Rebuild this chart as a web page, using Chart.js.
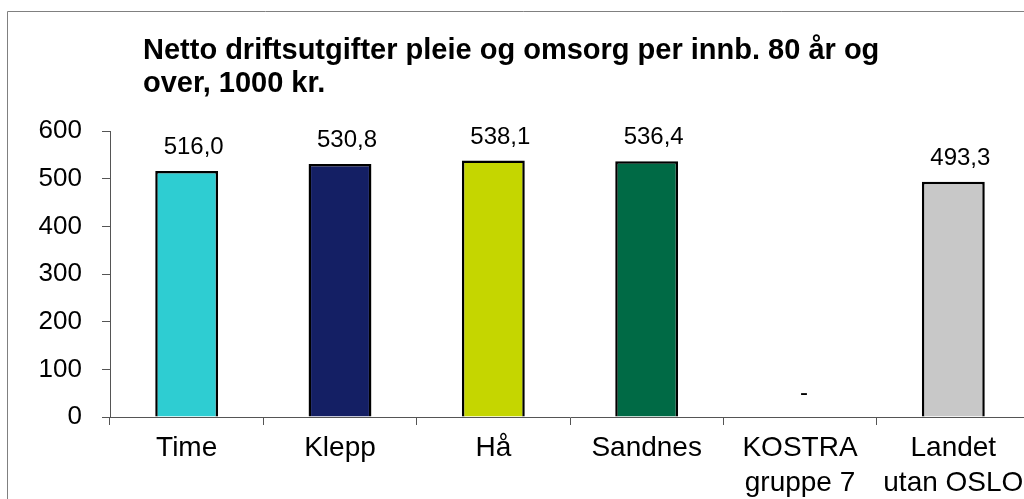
<!DOCTYPE html>
<html>
<head>
<meta charset="utf-8">
<script src="https://cdn.jsdelivr.net/npm/chart.js@4/dist/chart.umd.min.js"></script>
<style>
html,body{margin:0;padding:0;background:#fff;overflow:hidden;width:1024px;height:499px;}
#wrap{position:absolute;left:0;top:0;width:1040px;height:499px;}
</style>
</head>
<body>
<div id="wrap"><canvas id="c" width="1040" height="499"></canvas></div>
<script>
const titleLines = ['Netto driftsutgifter pleie og omsorg per innb. 80 år og', 'over, 1000 kr.'];
const categories = [['Time'], ['Klepp'], ['Hå'], ['Sandnes'], ['KOSTRA', 'gruppe 7'], ['Landet', 'utan OSLO']];
const values = [516.0, 530.8, 538.1, 536.4, null, 493.3];
const barColors = ['#2ECDD2', '#141F64', '#C5D600', '#006A45', '#FFFFFF', '#C8C8C8'];
const yTicks = [0, 100, 200, 300, 400, 500, 600];

const FONT = "'Liberation Sans', Arial, sans-serif";

const framePlugin = {
  id: 'frame',
  beforeDraw(chart) {
    const ctx = chart.ctx;
    ctx.save();
    ctx.strokeStyle = '#808080';
    ctx.lineWidth = 1;
    ctx.beginPath();
    ctx.moveTo(7.5, 499);
    ctx.lineTo(7.5, 11.5);
    ctx.lineTo(1040, 11.5);
    ctx.stroke();
    ctx.restore();
  }
};

const titlePlugin = {
  id: 'leftTitle',
  afterDraw(chart) {
    const ctx = chart.ctx;
    ctx.save();
    ctx.font = 'bold 29px ' + FONT;
    ctx.fillStyle = '#000';
    ctx.textAlign = 'left';
    ctx.textBaseline = 'alphabetic';
    const x = chart.chartArea.left + 33;
    titleLines.forEach((t, i) => ctx.fillText(t, x, 59 + i * 33));
    ctx.restore();
  }
};

const labelPlugin = {
  id: 'valueLabels',
  afterDatasetsDraw(chart) {
    const ctx = chart.ctx;
    const meta = chart.getDatasetMeta(0);
    const yScale = chart.scales.y;
    ctx.save();
    ctx.font = '24px ' + FONT;
    ctx.fillStyle = '#000';
    ctx.textAlign = 'center';
    ctx.textBaseline = 'alphabetic';
    values.forEach((v, i) => {
      const el = meta.data[i];
      const x = chart.scales.x.getPixelForValue(i) + (v === null ? 4 : 7);
      const y = (v === null ? yScale.getPixelForValue(0) : el.y) - 17;
      const txt = v === null ? '-' : v.toFixed(1).replace('.', ',');
      ctx.fillText(txt, x, y);
    });
    ctx.restore();
  }
};

new Chart(document.getElementById('c'), {
  type: 'bar',
  data: {
    labels: categories,
    datasets: [{
      data: values,
      backgroundColor: barColors,
      borderColor: '#000',
      borderWidth: 2.5,
      categoryPercentage: 1,
      barPercentage: 0.41
    }]
  },
  options: {
    responsive: false,
    animation: false,
    layout: { padding: { left: 0, top: 131, right: 10, bottom: 0 } },
    plugins: {
      legend: { display: false },
      title: { display: false },
      tooltip: { enabled: false }
    },
    scales: {
      x: {
        offset: true,
        grid: { offset: true, drawOnChartArea: false, drawTicks: true, tickLength: 8, color: '#555', lineWidth: 1 },
        border: { display: true, color: '#555', width: 1 },
        ticks: { color: '#000', font: { family: FONT, size: 28, lineHeight: 1.24 }, padding: 6, maxRotation: 0, autoSkip: false },
        afterFit(s) { s.height = 82; }
      },
      y: {
        min: 0,
        max: 600,
        afterBuildTicks(s) { s.ticks = yTicks.map(v => ({ value: v })); },
        grid: { drawOnChartArea: false, drawTicks: true, tickLength: 8, color: '#555', lineWidth: 1 },
        border: { display: true, color: '#555', width: 1 },
        ticks: { color: '#000', font: { family: FONT, size: 26 }, padding: 20 },
        afterFit(s) { s.width = 110; }
      }
    }
  },
  plugins: [framePlugin, titlePlugin, labelPlugin]
});
</script>
</body>
</html>
